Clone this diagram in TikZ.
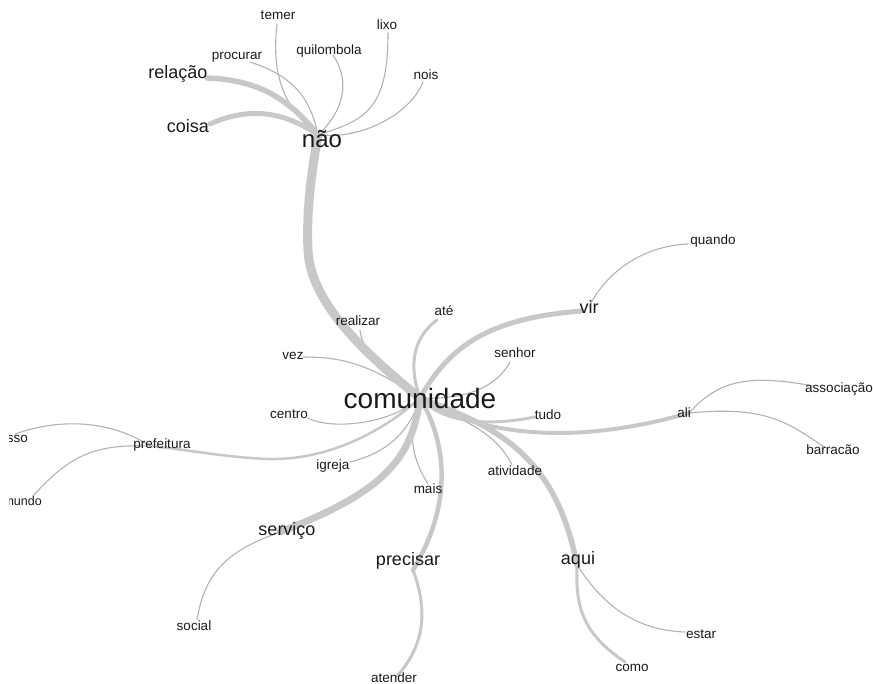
\documentclass[tikz,border=0pt]{standalone}
\usepackage{fontspec}
\setmainfont{Liberation Sans}
\definecolor{thickgray}{RGB}{200,200,200}
\definecolor{thingray}{RGB}{178,178,178}
\definecolor{wordcol}{RGB}{25,25,25}
\begin{document}
\begin{tikzpicture}[x=1pt,y=-1pt,
  edge/.style={draw=thickgray, line cap=round},
  thinedge/.style={draw=thingray, line cap=round, line width=1.1pt},
  word/.style={text=wordcol, inner sep=0pt, anchor=mid},
  sm/.style={word, font=\fontsize{13.5}{15}\selectfont},
  md/.style={word, font=\fontsize{18}{20}\selectfont},
  bg/.style={word, font=\fontsize{24}{26}\selectfont},
  hg/.style={word, font=\fontsize{28}{30}\selectfont}]
\useasboundingbox (0,0) rectangle (873,684);
\clip (9,0) rectangle (873,684);
% hubs
\coordinate (hN) at (318,135);
\coordinate (hC) at (420,398);
\coordinate (hV) at (590,305);
\coordinate (hA) at (689,413);
\coordinate (hP) at (150,446);
\coordinate (hS) at (280,532);
\coordinate (hPr) at (413,570);
\coordinate (hAq) at (577,565);
% free ends
\coordinate (eRel) at (207,78);
\coordinate (eCoi) at (210,124);
\coordinate (eProc) at (250,62);
\coordinate (eTem) at (277,24);
\coordinate (eQuil) at (333,55);
\coordinate (eLixo) at (388,33);
\coordinate (eNois) at (423,82);
\coordinate (eReal) at (360,330);
\coordinate (eVez) at (303,357);
\coordinate (eAte) at (437,320);
\coordinate (eVir) at (582,311);
\coordinate (eQuando) at (688,244);
\coordinate (eSen) at (510,362);
\coordinate (eCen) at (308,418);
\coordinate (eTudo) at (535,417);
\coordinate (eAss) at (813,386);
\coordinate (eBar) at (826,448);
\coordinate (eAce) at (15,434);
\coordinate (eMun) at (33,496);
\coordinate (eIgr) at (350,462);
\coordinate (eMais) at (428,484);
\coordinate (eAtiv) at (512,465);
\coordinate (eSoc) at (197,620);
\coordinate (eAtend) at (397,676);
\coordinate (eEst) at (685,632);
\coordinate (eComo) at (625,662);
% edges around nao
\draw[thinedge] (hN) .. controls (310,95) and (290,75) .. (eProc);
\draw[thinedge] (hN) .. controls (280,105) and (272,70) .. (eTem);
\draw[thinedge] (hN) .. controls (345,110) and (350,80) .. (eQuil);
\draw[thinedge] (hN) .. controls (365,120) and (388,110) .. (eLixo);
\draw[thinedge] (hN) .. controls (360,140) and (410,115) .. (eNois);
\draw[edge, line width=5.5pt] (hN) .. controls (290,100) and (260,80) .. (eRel);
\draw[edge, line width=5pt] (hN) .. controls (285,112) and (250,106) .. (eCoi);
% edges around comunidade
\draw[thinedge] (hC) .. controls (390,370) and (362,355) .. (eReal);
\draw[thinedge] (hC) .. controls (370,365) and (345,357) .. (eVez);
\draw[edge, line width=3pt] (hC) .. controls (410,370) and (410,340) .. (eAte);
\draw[thinedge] (hC) .. controls (460,400) and (495,390) .. (eSen);
\draw[thinedge] (hC) .. controls (390,425) and (330,430) .. (eCen);
\draw[edge, line width=3pt] (hC) .. controls (440,420) and (480,428) .. (eTudo);
\draw[thinedge] (hC) .. controls (410,430) and (390,452) .. (eIgr);
\draw[thinedge] (hC) .. controls (408,430) and (410,455) .. (eMais);
\draw[thinedge] (hC) .. controls (460,420) and (495,430) .. (eAtiv);
\draw[edge, line width=2.5pt] (hC) .. controls (385,430) and (330,460) .. (270,459) .. controls (230,458) and (190,450) .. (hP);
\draw[edge, line width=4pt] (hC) .. controls (470,430) and (560,450) .. (hA);
\draw[edge, line width=5pt] (hC) .. controls (450,345) and (490,318) .. (eVir);
\draw[edge, line width=7pt] (hC) .. controls (412,455) and (390,490) .. (hS);
\draw[edge, line width=4.5pt] (hC) .. controls (445,440) and (455,500) .. (hPr);
\draw[edge, line width=5.5pt] (hC) .. controls (490,425) and (555,450) .. (hAq);
\draw[edge, line width=9pt] (hC) .. controls (360,350) and (310,300) .. (308,250) .. controls (306,210) and (312,170) .. (hN);
% secondary branches
\draw[thinedge] (hV) .. controls (605,275) and (640,246) .. (eQuando);
\draw[thinedge] (hA) .. controls (715,385) and (740,372) .. (eAss);
\draw[thinedge] (hA) .. controls (770,405) and (790,425) .. (eBar);
\draw[thinedge] (hP) .. controls (110,420) and (60,418) .. (eAce);
\draw[thinedge] (hP) .. controls (95,444) and (70,455) .. (eMun);
\draw[thinedge] (hS) .. controls (230,550) and (205,570) .. (eSoc);
\draw[edge, line width=3pt] (hPr) .. controls (428,610) and (425,645) .. (eAtend);
\draw[thinedge] (hAq) .. controls (600,600) and (630,630) .. (eEst);
\draw[edge, line width=3pt] (hAq) .. controls (575,610) and (585,635) .. (eComo);
% words
\node[bg] (nao) at (322,145) {não};
\node[md] (relacao) at (178,76) {relação};
\node[md] (coisa) at (188,130) {coisa};
\node[sm] (procurar) at (237,57) {procurar};
\node[sm] (temer) at (278,17) {temer};
\node[sm] (quilombola) at (329,52) {quilombola};
\node[sm] (lixo) at (387,27) {lixo};
\node[sm] (nois) at (426,77) {nois};
\node[hg] (comunidade) at (420,406) {comunidade};
\node[sm] (realizar) at (358,323) {realizar};
\node[sm] (ate) at (444,313) {até};
\node[md] (vir) at (589,311) {vir};
\node[sm] (quando) at (713,242) {quando};
\node[sm] (senhor) at (515,355) {senhor};
\node[sm] (vez) at (293,357) {vez};
\node[sm] (centro) at (289,416) {centro};
\node[sm] (tudo) at (548,417) {tudo};
\node[sm] (ali) at (684,415) {ali};
\node[sm] (associacao) at (839,390) {associação};
\node[sm] (barracao) at (833,452) {barracão};
\node[sm] (prefeitura) at (162,446) {prefeitura};
\node[sm, anchor=mid east] (acesso) at (28,440) {acesso};
\node[word, font=\fontsize{12.5}{14}\selectfont, anchor=mid east] (mundo) at (42,503) {mundo};
\node[sm] (igreja) at (333,467) {igreja};
\node[sm] (mais) at (428,491) {mais};
\node[sm] (atividade) at (515,473) {atividade};
\node[md] (servico) at (287,533) {serviço};
\node[md] (precisar) at (408,563) {precisar};
\node[md] (aqui) at (578,562) {aqui};
\node[sm] (social) at (194,628) {social};
\node[sm] (atender) at (394,680) {atender};
\node[sm] (estar) at (701,636) {estar};
\node[sm] (como) at (632,669) {como};
\end{tikzpicture}
\end{document}
